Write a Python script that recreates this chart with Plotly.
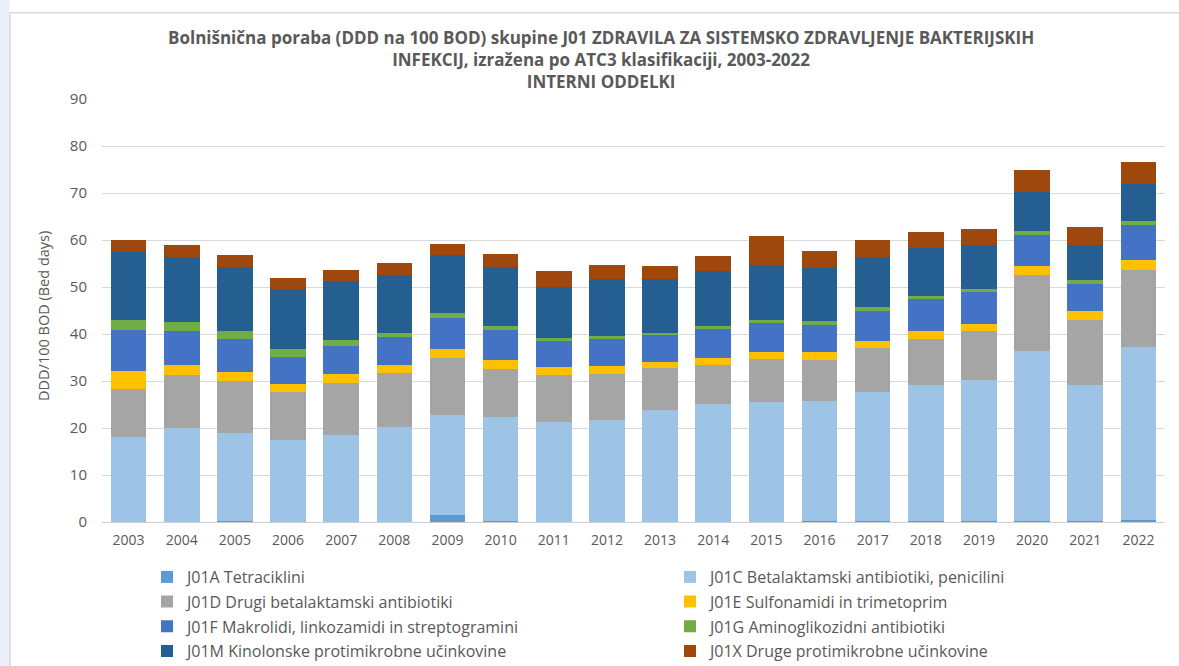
import plotly.graph_objects as go

# Hospital antibiotic consumption, internal medicine wards (DDD per 100 bed days)
years = [str(y) for y in range(2003, 2023)]

series_names = [
    "J01A Tetraciklini",
    "J01C Betalaktamski antibiotiki, penicilini",
    "J01D Drugi betalaktamski antibiotiki",
    "J01E Sulfonamidi in trimetoprim",
    "J01F Makrolidi, linkozamidi in streptogramini",
    "J01G Aminoglikozidni antibiotiki",
    "J01M Kinolonske protimikrobne učinkovine",
    "J01X Druge protimikrobne učinkovine",
]

j01a = [0.1, 0.1, 0.3, 0.1, 0.1, 0.1, 1.5, 0.3, 0.1, 0.1,
        0.1, 0.1, 0.1, 0.2, 0.2, 0.2, 0.2, 0.2, 0.2, 0.5]
j01c = [18.0, 20.0, 18.6, 17.4, 18.5, 20.2, 21.3, 22.1, 21.1, 21.6,
        23.7, 25.1, 25.4, 25.6, 27.4, 29.0, 30.1, 36.2, 28.9, 36.8]
j01d = [10.2, 11.2, 11.2, 10.1, 11.0, 11.3, 12.2, 10.2, 10.0, 9.7,
        8.9, 8.3, 9.1, 8.6, 9.5, 9.7, 10.4, 16.2, 13.9, 16.4]
j01e = [3.8, 2.2, 1.8, 1.8, 1.8, 1.9, 1.9, 1.9, 1.7, 1.7,
        1.4, 1.5, 1.6, 1.7, 1.5, 1.8, 1.5, 1.9, 2.0, 2.0]
j01f = [8.8, 7.1, 7.0, 5.7, 6.1, 5.8, 6.4, 6.4, 5.7, 5.8,
        5.8, 6.1, 6.1, 5.9, 6.4, 6.7, 6.7, 6.6, 5.6, 7.5]
j01g = [2.1, 2.0, 1.7, 1.7, 1.3, 1.0, 1.2, 0.7, 0.5, 0.6,
        0.4, 0.7, 0.6, 0.8, 0.7, 0.7, 0.7, 0.9, 0.9, 0.8]
j01m = [14.5, 13.8, 13.7, 12.8, 12.4, 12.3, 12.4, 12.7, 10.9, 12.1,
        11.3, 11.7, 11.8, 11.2, 10.7, 10.1, 9.3, 8.3, 7.4, 7.9]
j01x = [2.5, 2.5, 2.6, 2.4, 2.5, 2.5, 2.3, 2.8, 3.3, 3.1,
        2.8, 3.2, 6.2, 3.7, 3.7, 3.4, 3.4, 4.5, 3.9, 4.8]

series_values = [j01a, j01c, j01d, j01e, j01f, j01g, j01m, j01x]
colors = ["#5B9BD5", "#9DC3E6", "#A5A5A5", "#FFC000",
          "#4472C4", "#70AD47", "#255E91", "#9E480E"]

y_ticks = list(range(0, 100, 10))

title_lines = [
    "Bolnišnična poraba (DDD na 100 BOD) skupine J01 ZDRAVILA ZA SISTEMSKO ZDRAVLJENJE BAKTERIJSKIH",
    "INFEKCIJ, izražena po ATC3 klasifikaciji, 2003-2022",
    "INTERNI ODDELKI",
]
y_title = "DDD/100 BOD (Bed days)"

W, H = 1179, 666
ML, MR, MT, MB = 102, 14, 99, 144
PW, PH = W - ML - MR, H - MT - MB


def px_x(px):
    return (px - ML) / PW


def px_y(py):
    return (H - MB - py) / PH


TEXT = "#595959"
FONT = "'Open Sans', Lato, sans-serif"

fig = go.Figure()

legend_layout = {}
for i, (name, vals, col) in enumerate(zip(series_names, series_values, colors)):
    key = "legend" if i == 0 else f"legend{i + 1}"
    fig.add_trace(go.Bar(
        x=years, y=vals, name=name, marker=dict(color=col, line=dict(width=0)),
        legend=key,
    ))
    row, column = divmod(i, 2)
    legend_layout[key] = dict(
        x=px_x([147, 670][column]),
        y=px_y(577 + 24.7 * row),
        xanchor="left", yanchor="middle",
        bgcolor="rgba(0,0,0,0)",
        font=dict(family=FONT, size=16, color=TEXT),
        itemwidth=30,
    )

fig.update_layout(
    width=W, height=H,
    margin=dict(l=ML, r=MR, t=MT, b=MB, autoexpand=False),
    paper_bgcolor="white", plot_bgcolor="white",
    barmode="stack", bargap=0.33,
    xaxis=dict(
        type="category", showgrid=False, showline=True, linecolor="#D0D0D0",
        linewidth=1, ticks="", tickfont=dict(family=FONT, size=14, color=TEXT),
        ticklabelstandoff=5,
    ),
    yaxis=dict(
        range=[0, 90], tickvals=y_ticks, showgrid=True, gridcolor="#D9D9D9",
        gridwidth=1, zeroline=False, showline=False, ticks="",
        tickfont=dict(family=FONT, size=15, color=TEXT),
        ticklabelstandoff=14,
    ),
    showlegend=True,
    **legend_layout,
)

# Three-line chart title as a single text block
fig.add_annotation(
    text="<b>" + "<br>".join(title_lines) + "</b>", showarrow=False,
    xref="paper", yref="paper", x=px_x(601), y=px_y(59.5),
    xanchor="center", yanchor="middle", align="center",
    font=dict(family=FONT, size=17, color=TEXT),
)

# Vertical axis title
fig.add_annotation(
    text=y_title, showarrow=False, textangle=-90,
    xref="paper", yref="paper", x=px_x(43), y=px_y(316),
    xanchor="center", yanchor="middle",
    font=dict(family=FONT, size=14.5, color=TEXT),
)

# Outer chart frame and pale side strip
fig.add_shape(type="rect", xref="paper", yref="paper",
              x0=px_x(0), x1=px_x(9.5), y0=px_y(H), y1=px_y(0),
              fillcolor="#E9EEF8", line=dict(width=0), layer="below")
fig.add_shape(type="line", xref="paper", yref="paper",
              x0=px_x(10), x1=px_x(W), y0=px_y(12.7), y1=px_y(12.7),
              line=dict(color="#D9D9D9", width=1.5))
fig.add_shape(type="line", xref="paper", yref="paper",
              x0=px_x(10), x1=px_x(10), y0=px_y(12.7), y1=px_y(H),
              line=dict(color="#D9D9D9", width=1.5))

fig.write_html("out.html")
